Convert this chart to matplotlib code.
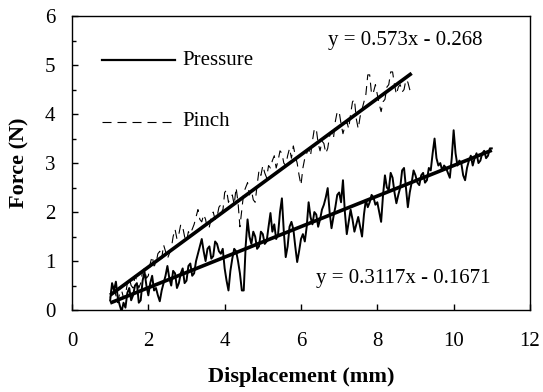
import matplotlib
matplotlib.use("Agg")
import matplotlib.pyplot as plt
import numpy as np
from matplotlib.ticker import MultipleLocator

plt.rcParams['font.family'] = ['Liberation Serif', 'DejaVu Serif']
plt.rcParams['lines.scale_dashes'] = False

# Pressure trace (solid): displacement (mm) and force (N)
pressure_x = [1.00, 1.05, 1.10, 1.15, 1.20, 1.25, 1.30, 1.35, 1.40, 1.45,
              1.50, 1.55, 1.60, 1.65, 1.70, 1.75, 1.80, 1.85, 1.90, 1.95,
              2.00, 2.05, 2.10, 2.15, 2.20, 2.25, 2.30, 2.35, 2.40, 2.45,
              2.50, 2.55, 2.60, 2.65, 2.70, 2.75, 2.80, 2.85, 2.90, 2.95,
              3.00, 3.05, 3.10, 3.15, 3.20, 3.25, 3.30, 3.35, 3.40, 3.45,
              3.50, 3.55, 3.60, 3.65, 3.70, 3.75, 3.80, 3.85, 3.90, 3.95,
              4.00, 4.05, 4.10, 4.15, 4.20, 4.25, 4.30, 4.35, 4.40, 4.45,
              4.50, 4.55, 4.60, 4.65, 4.70, 4.75, 4.80, 4.85, 4.90, 4.95,
              5.00, 5.05, 5.10, 5.15, 5.20, 5.25, 5.30, 5.35, 5.40, 5.45,
              5.50, 5.55, 5.60, 5.65, 5.70, 5.75, 5.80, 5.85, 5.90, 5.95,
              6.00, 6.05, 6.10, 6.15, 6.20, 6.25, 6.30, 6.35, 6.40, 6.45,
              6.50, 6.55, 6.60, 6.65, 6.70, 6.75, 6.80, 6.85, 6.90, 6.95,
              7.00, 7.05, 7.10, 7.15, 7.20, 7.25, 7.30, 7.35, 7.40, 7.45,
              7.50, 7.55, 7.60, 7.65, 7.70, 7.75, 7.80, 7.85, 7.90, 7.95,
              8.00, 8.05, 8.10, 8.15, 8.20, 8.25, 8.30, 8.35, 8.40, 8.45,
              8.50, 8.55, 8.60, 8.65, 8.70, 8.75, 8.80, 8.85, 8.90, 8.95,
              9.00, 9.05, 9.10, 9.15, 9.20, 9.25, 9.30, 9.35, 9.40, 9.45,
              9.50, 9.55, 9.60, 9.65, 9.70, 9.75, 9.80, 9.85, 9.90, 9.95,
              10.00, 10.05, 10.10, 10.15, 10.20, 10.25, 10.30, 10.35, 10.40, 10.45,
              10.50, 10.55, 10.60, 10.65, 10.70, 10.75, 10.80, 10.85, 10.90, 10.95,
              11.00]
pressure_y = [0.20, 0.55, 0.40, 0.58, 0.25, 0.10, -0.03, 0.15, 0.05, 0.35,
              0.45, 0.20, 0.30, 0.50, 0.55, 0.15, 0.20, 0.60, 0.78, 0.50,
              0.30, 0.55, 0.70, 0.40, 0.45, 0.30, 0.18, 0.40, 0.55, 0.70,
              0.90, 0.65, 0.50, 0.80, 0.75, 0.45, 0.55, 0.75, 0.85, 0.55,
              0.60, 0.90, 0.95, 0.70, 0.75, 1.00, 1.15, 1.30, 1.45, 1.20,
              1.00, 1.25, 1.30, 1.05, 1.10, 1.40, 1.35, 1.20, 1.15, 1.25,
              0.85, 0.60, 0.40, 0.80, 1.05, 1.25, 1.20, 1.00, 0.75, 0.40,
              0.40, 1.30, 1.85, 1.50, 1.35, 1.60, 1.50, 1.25, 1.30, 1.60,
              1.55, 1.35, 1.40, 1.70, 1.98, 1.60, 1.75, 1.45, 1.55, 2.00,
              2.28, 1.60, 1.08, 1.30, 1.70, 1.80, 1.65, 1.30, 0.98, 1.20,
              1.45, 1.55, 1.40, 1.70, 2.20, 1.90, 1.75, 2.00, 1.95, 1.70,
              1.85, 2.05, 2.15, 2.30, 2.49, 2.00, 1.67, 1.90, 2.10, 2.35,
              2.40, 2.20, 2.65, 2.00, 1.55, 1.80, 2.05, 1.85, 1.60, 1.75,
              1.90, 1.70, 1.50, 1.95, 2.25, 2.10, 2.20, 2.35, 2.30, 2.15,
              2.20, 2.00, 1.80, 2.35, 2.75, 2.50, 2.45, 2.80, 2.70, 2.40,
              2.18, 2.35, 2.50, 2.85, 2.90, 2.50, 2.10, 2.40, 2.60, 2.85,
              2.75, 2.60, 2.55, 2.75, 2.80, 2.60, 2.65, 2.90, 2.85, 3.20,
              3.50, 3.10, 2.95, 3.00, 2.85, 2.95, 2.90, 2.80, 2.70, 3.10,
              3.67, 3.20, 2.95, 3.05, 3.00, 2.75, 2.65, 2.90, 3.05, 3.15,
              2.95, 3.10, 3.20, 3.00, 3.05, 3.20, 3.25, 3.10, 3.15, 3.30,
              3.30]

# Pinch trace (dashed)
pinch_x = [1.00, 1.05, 1.10, 1.15, 1.20, 1.25, 1.30, 1.35, 1.40, 1.45,
           1.50, 1.55, 1.60, 1.65, 1.70, 1.75, 1.80, 1.85, 1.90, 1.95,
           2.00, 2.05, 2.10, 2.15, 2.20, 2.25, 2.30, 2.35, 2.40, 2.45,
           2.50, 2.55, 2.60, 2.65, 2.70, 2.75, 2.80, 2.85, 2.90, 2.95,
           3.00, 3.05, 3.10, 3.15, 3.20, 3.25, 3.30, 3.35, 3.40, 3.45,
           3.50, 3.55, 3.60, 3.65, 3.70, 3.75, 3.80, 3.85, 3.90, 3.95,
           4.00, 4.05, 4.10, 4.15, 4.20, 4.25, 4.30, 4.35, 4.40, 4.45,
           4.50, 4.55, 4.60, 4.65, 4.70, 4.75, 4.80, 4.85, 4.90, 4.95,
           5.00, 5.05, 5.10, 5.15, 5.20, 5.25, 5.30, 5.35, 5.40, 5.45,
           5.50, 5.55, 5.60, 5.65, 5.70, 5.75, 5.80, 5.85, 5.90, 5.95,
           6.00, 6.05, 6.10, 6.15, 6.20, 6.25, 6.30, 6.35, 6.40, 6.45,
           6.50, 6.55, 6.60, 6.65, 6.70, 6.75, 6.80, 6.85, 6.90, 6.95,
           7.00, 7.05, 7.10, 7.15, 7.20, 7.25, 7.30, 7.35, 7.40, 7.45,
           7.50, 7.55, 7.60, 7.65, 7.70, 7.75, 7.80, 7.85, 7.90, 7.95,
           8.00, 8.05, 8.10, 8.15, 8.20, 8.25, 8.30, 8.35, 8.40, 8.45,
           8.50, 8.55, 8.60, 8.65, 8.70, 8.75, 8.80, 8.85, 8.90]
pinch_y = [0.25, 0.50, 0.45, 0.30, 0.15, 0.35, 0.40, 0.25, 0.30, 0.55,
           0.65, 0.50, 0.45, 0.70, 0.60, 0.45, 0.55, 0.80, 0.85, 0.65,
           0.70, 0.95, 1.10, 0.90, 0.95, 1.15, 1.20, 1.05, 1.33, 1.20,
           1.05, 1.15, 1.25, 1.50, 1.65, 1.45, 1.55, 1.75, 1.70, 1.50,
           1.40, 1.60, 1.55, 1.65, 1.75, 1.90, 2.05, 1.85, 1.80, 1.95,
           1.85, 1.65, 1.70, 1.90, 2.00, 1.85, 1.90, 2.10, 2.15, 2.00,
           2.40, 2.45, 2.20, 2.30, 2.35, 2.15, 2.50, 2.20, 1.70, 2.05,
           2.40, 2.50, 2.60, 2.35, 2.45, 2.25, 2.20, 2.55, 2.85, 2.75,
           2.95, 2.80, 2.70, 2.95, 2.90, 3.05, 3.15, 2.90, 3.05, 3.25,
           3.20, 3.00, 2.95, 3.15, 3.30, 3.10, 3.35, 3.15, 3.00, 2.75,
           2.55, 2.90, 3.10, 3.20, 3.30, 3.15, 3.45, 3.70, 3.70, 3.40,
           3.25, 3.45, 3.40, 3.20, 3.30, 3.55, 3.65, 3.50, 3.85, 4.05,
           4.05, 3.80, 3.60, 3.75, 3.85, 3.70, 4.00, 4.25, 4.30, 3.90,
           3.70, 3.95, 4.10, 4.25, 4.40, 4.80, 4.80, 4.40, 4.45, 4.60,
           4.40, 4.20, 4.05, 4.25, 4.30, 4.55, 4.60, 4.86, 4.86, 4.60,
           4.40, 4.55, 4.60, 4.45, 4.50, 4.70, 4.65, 4.50, 4.45]

# linear fits printed on the chart (slope, intercept)
pinch_fit = (0.573, -0.268)
pressure_fit = (0.3117, -0.1671)

fig = plt.figure(figsize=(5.43, 3.92), dpi=100)
ax = fig.add_axes([0.1326, 0.209, 0.8434, 0.750])

ax.plot(pinch_x, pinch_y, color='black', lw=0.8, linestyle=(0, (6.5, 4.3)))
ax.plot(pressure_x, pressure_y, color='black', lw=1.4)

xf = np.array([pinch_x[0], pinch_x[-1]])
ax.plot(xf, pinch_fit[0] * xf + pinch_fit[1], color='black', lw=2.6,
        solid_capstyle='butt')
xf = np.array([pressure_x[0], pressure_x[-1]])
ax.plot(xf, pressure_fit[0] * xf + pressure_fit[1], color='black', lw=2.6,
        solid_capstyle='butt')

ax.text(6.7, 5.5, 'y = 0.573x - 0.268', fontsize=15, va='center')
ax.text(6.4, 0.65, 'y = 0.3117x - 0.1671', fontsize=15, va='center')

# legend drawn by hand (axes fractions)
ax.plot([0.0655, 0.225], [0.85, 0.85], transform=ax.transAxes,
        color='black', lw=1.6)
ax.plot([0.0655, 0.225], [0.64, 0.64], transform=ax.transAxes,
        color='black', lw=0.8, linestyle=(0, (6.5, 4.3)))
ax.text(0.242, 0.85, 'Pressure', transform=ax.transAxes, fontsize=15,
        va='center')
ax.text(0.242, 0.64, 'Pinch', transform=ax.transAxes, fontsize=15,
        va='center')

ax.set_xlim(0, 12)
ax.set_ylim(0, 6)
ax.set_xticks([0, 2, 4, 6, 8, 10, 12])
ax.yaxis.set_major_locator(MultipleLocator(1))
ax.yaxis.set_minor_locator(MultipleLocator(0.5))
ax.tick_params(axis='both', which='major', direction='in', length=4.5,
               width=1.0, labelsize=15)
ax.tick_params(axis='y', which='major', pad=12)
ax.tick_params(axis='y', which='minor', direction='in', length=3, width=1.0)
ax.tick_params(axis='x', which='major', pad=16)

for s in ax.spines.values():
    s.set_linewidth(1.0)

ax.set_xlabel('Displacement (mm)', fontsize=16, fontweight='bold', labelpad=11)
ax.set_ylabel('Force (N)', fontsize=16, fontweight='bold', labelpad=11)

fig.savefig('out.png', dpi=100)
